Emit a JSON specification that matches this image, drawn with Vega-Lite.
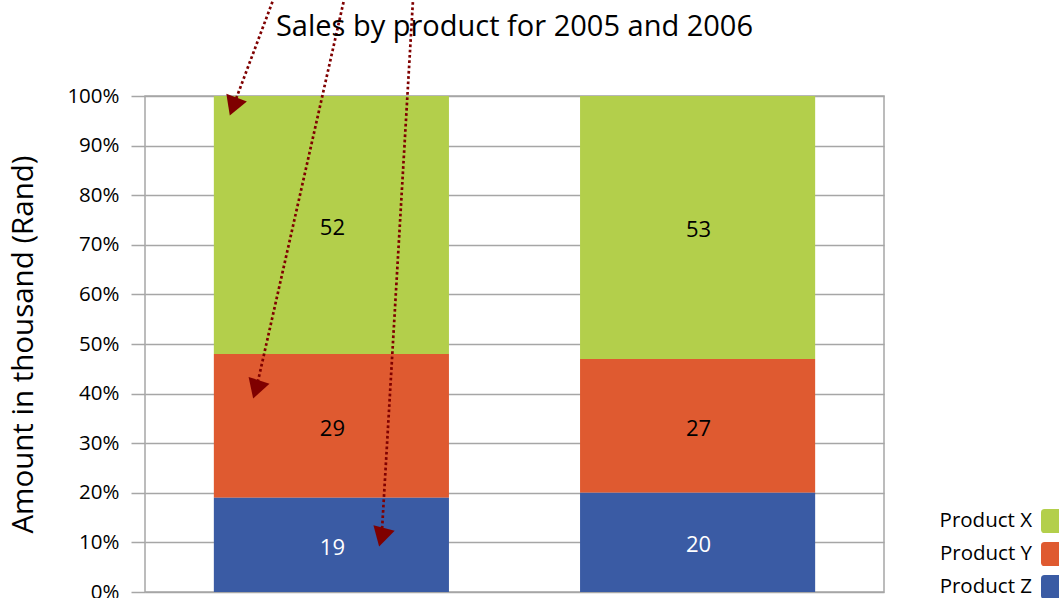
{
  "$schema": "https://vega.github.io/schema/vega-lite/v6.json",
  "autosize": "none",
  "width": 739,
  "height": 496,
  "padding": {"top": 96, "left": 145, "right": 175, "bottom": 6},
  "background": "white",
  "title": {
    "text": "Sales by product for 2005 and 2006",
    "anchor": "middle",
    "font": "Open Sans",
    "fontSize": 29,
    "fontWeight": "normal",
    "color": "black",
    "baseline": "alphabetic",
    "offset": 0,
    "dy": 70
  },
  "config": {
    "font": "Open Sans",
    "view": {"stroke": "#a6a6a6", "strokeWidth": 1.5},
    "axis": {"labelFont": "Open Sans", "titleFont": "Open Sans"}
  },
  "datasets": {
    "sales": [
      {"Year": "2005", "Product": "Product X", "Amount": 52},
      {"Year": "2005", "Product": "Product Y", "Amount": 29},
      {"Year": "2005", "Product": "Product Z", "Amount": 19},
      {"Year": "2006", "Product": "Product X", "Amount": 53},
      {"Year": "2006", "Product": "Product Y", "Amount": 27},
      {"Year": "2006", "Product": "Product Z", "Amount": 20}
    ],
    "arrows": [
      {"arrow": 1, "x_start": -0.150, "y_start": 1.2, "x_end": -0.2613, "y_end": 0.9788},
      {"arrow": 2, "x_start": 0.0405, "y_start": 1.2, "x_end": -0.1993, "y_end": 0.4085},
      {"arrow": 3, "x_start": 0.2258, "y_start": 1.2, "x_end": 0.1403, "y_end": 0.1105}
    ]
  },
  "layer": [
    {
      "data": {"name": "sales"},
      "transform": [
        {"stack": "Amount", "groupby": ["Year"], "sort": [{"field": "Product", "order": "descending"}], "offset": "normalize", "as": ["y0", "y1"]},
        {"calculate": "(datum.y0 + datum.y1) / 2", "as": "ymid"}
      ],
      "encoding": {
        "x": {
          "field": "Year", "type": "nominal",
          "scale": {"paddingInner": 0.358, "paddingOuter": 0.188},
          "axis": {"title": null, "labelAngle": 0, "ticks": false, "domain": false, "labelFontSize": 20, "labelColor": "black", "labelPadding": 8}
        }
      },
      "layer": [
        {
          "mark": {"type": "bar"},
          "encoding": {
            "y": {
              "field": "y0", "type": "quantitative",
              "scale": {"domain": [0, 1], "nice": false},
              "axis": {
                "title": "Amount in thousand (Rand)",
                "titleFontSize": 29.5, "titleFontWeight": "normal", "titleColor": "black", "titlePadding": 28,
                "format": ".0%", "values": [0, 0.1, 0.2, 0.3, 0.4, 0.5, 0.6, 0.7, 0.8, 0.9, 1],
                "labelFontSize": 20.5, "labelColor": "black", "labelPadding": 12,
                "tickSize": 14, "tickColor": "#a6a6a6", "tickWidth": 1.5,
                "grid": true, "gridColor": "#a6a6a6", "gridWidth": 1.5,
                "domain": false
              }
            },
            "y2": {"field": "y1"},
            "color": {
              "field": "Product", "type": "nominal",
              "scale": {"domain": ["Product X", "Product Y", "Product Z"], "range": ["#b3cf4b", "#df5a30", "#3a5ba4"]},
              "legend": {
                "title": null, "orient": "none", "legendX": 896, "legendY": 413, "padding": 0,
                "symbolType": "M -1 -0.7 Q -1 -1 -0.7 -1 L 0.7 -1 Q 1 -1 1 -0.7 L 1 0.7 Q 1 1 0.7 1 L -0.7 1 Q -1 1 -1 0.7 Z",
                "symbolSize": 576, "symbolStrokeWidth": 0, "symbolOpacity": 1,
                "labelFont": "Open Sans", "labelFontSize": 20.5, "labelColor": "black",
                "labelAlign": "right", "labelOffset": -33, "rowPadding": 9, "labelLimit": 200
              }
            }
          }
        },
        {
          "mark": {"type": "text", "fontSize": 22, "font": "Open Sans", "baseline": "middle", "dy": 3, "dx": 1},
          "encoding": {
            "y": {"field": "ymid", "type": "quantitative", "scale": {"domain": [0, 1], "nice": false}},
            "text": {"field": "Amount", "type": "quantitative"},
            "color": {"condition": {"test": "datum.Product === 'Product Z'", "value": "white"}, "value": "black"}
          }
        }
      ]
    },
    {
      "data": {"name": "arrows"},
      "layer": [
        {
          "mark": {"type": "rule", "color": "#7f0000", "strokeWidth": 2.7, "strokeDash": [2.7, 2.6], "clip": false},
          "encoding": {
            "x": {"field": "x_start", "type": "quantitative", "scale": {"domain": [-0.5, 1.5], "nice": false, "zero": false}, "axis": null},
            "y": {"field": "y_start", "type": "quantitative", "scale": {"domain": [0, 1], "nice": false}, "axis": null},
            "x2": {"field": "x_end"},
            "y2": {"field": "y_end"}
          }
        },
        {
          "mark": {"type": "point", "shape": "triangle-down", "filled": true, "size": 484, "color": "#7f0000", "opacity": 1, "clip": false},
          "encoding": {
            "x": {"field": "x_end", "type": "quantitative", "scale": {"domain": [-0.5, 1.5], "nice": false, "zero": false}, "axis": null},
            "y": {"field": "y_end", "type": "quantitative", "scale": {"domain": [0, 1], "nice": false}, "axis": null},
            "angle": {"field": "arrow", "type": "ordinal", "scale": {"domain": [1, 2, 3], "range": [21, 15, 5]}, "legend": null}
          }
        }
      ]
    }
  ],
  "resolve": {"scale": {"x": "independent", "y": "independent", "color": "independent", "angle": "independent"}}
}
